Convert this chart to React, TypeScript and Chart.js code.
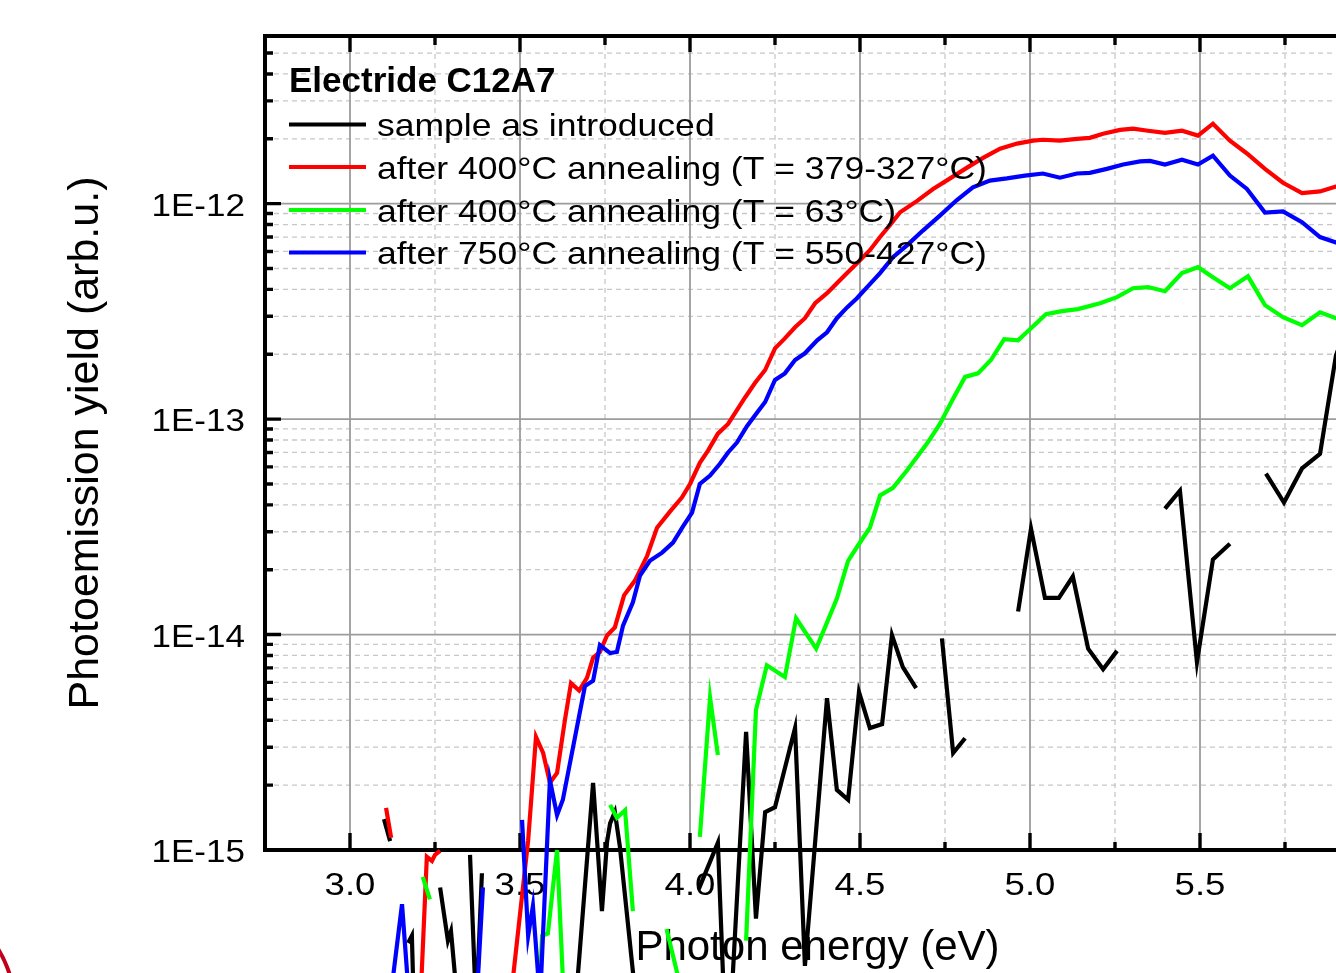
import React, { useEffect, useRef } from "react";
import { Chart, registerables } from "chart.js";

Chart.register(...registerables);

// ---------------- data (photon energy in eV, yield in arb.u.; null = gap) ----------------
const blackEnergy = [3.100, 3.118, 3.14, 3.171, 3.182, 3.188, 3.23, 3.265, 3.288, 3.297, 3.318, 3.33, 3.353, 3.371, 3.388, 3.5, 3.662, 3.715, 3.741, 3.756, 3.765, 3.779, 3.794, 3.844, 3.95, 4.026, 4.082, 4.109, 4.165, 4.194, 4.221, 4.250, 4.309, 4.338, 4.403, 4.432, 4.465, 4.497, 4.529, 4.565, 4.594, 4.626, 4.665, 4.70, 4.741, 4.774, 4.809, 4.9, 4.965, 5.003, 5.044, 5.085, 5.126, 5.171, 5.215, 5.256, 5.33, 5.397, 5.441, 5.491, 5.538, 5.588, 5.65, 5.694, 5.747, 5.800, 5.853, 5.900, 5.950];
const blackYield = [1.39e-15, 1.1e-15, null, 3.7e-16, 4.0e-16, 1.8e-16, null, 6.7e-16, 3.8e-16, 4.2e-16, 1.8e-16, null, 9.5e-16, 1.8e-16, 7.8e-16, null, 1.8e-16, 2.05e-15, 5.2e-16, 1.09e-15, 1.33e-15, 1.5e-15, 1.03e-15, 1.8e-16, null, 6.6e-16, 1.08e-15, 8.6e-17, 3.53e-15, 4.8e-16, 1.5e-15, 1.58e-15, 3.68e-15, 2.9e-16, 5.06e-15, 1.9e-15, 1.71e-15, 5.41e-15, 3.68e-15, 3.84e-15, 9.95e-15, 7.06e-15, 5.64e-15, null, 9.6e-15, 2.82e-15, 3.3e-15, null, 1.28e-14, 3.1e-14, 1.48e-14, 1.48e-14, 1.86e-14, 8.6e-15, 6.9e-15, 8.4e-15, null, 3.84e-14, 4.65e-14, 7.45e-15, 2.23e-14, 2.64e-14, null, 5.58e-14, 4.1e-14, 5.9e-14, 6.9e-14, 1.98e-13, 3.2e-13];

const redEnergy = [3.106, 3.121, 3.16, 3.206, 3.226, 3.241, 3.250, 3.265, 3.36, 3.459, 3.524, 3.547, 3.568, 3.588, 3.609, 3.632, 3.650, 3.674, 3.697, 3.715, 3.735, 3.756, 3.779, 3.806, 3.838, 3.874, 3.903, 3.941, 3.976, 4.000, 4.029, 4.053, 4.082, 4.112, 4.138, 4.162, 4.191, 4.221, 4.250, 4.279, 4.309, 4.338, 4.368, 4.403, 4.432, 4.462, 4.494, 4.529, 4.559, 4.588, 4.618, 4.668, 4.715, 4.765, 4.815, 4.862, 4.912, 4.962, 5.009, 5.038, 5.088, 5.138, 5.176, 5.215, 5.265, 5.303, 5.347, 5.397, 5.447, 5.494, 5.538, 5.588, 5.638, 5.691, 5.744, 5.800, 5.853, 5.900, 5.950];
const redYield = [1.57e-15, 1.14e-15, null, 1.8e-16, 9.3e-16, 8.9e-16, 9.5e-16, 9.9e-16, null, 1.3e-16, 1.11e-15, 3.35e-15, 2.82e-15, 2.05e-15, 2.28e-15, 4.0e-15, 5.95e-15, 5.5e-15, 6.3e-15, 7.8e-15, 8.3e-15, 9.9e-15, 1.08e-14, 1.52e-14, 1.78e-14, 2.32e-14, 3.13e-14, 3.72e-14, 4.32e-14, 5.0e-14, 6.27e-14, 7.14e-14, 8.56e-14, 9.5e-14, 1.10e-13, 1.26e-13, 1.47e-13, 1.69e-13, 2.13e-13, 2.37e-13, 2.67e-13, 2.94e-13, 3.45e-13, 3.84e-13, 4.27e-13, 4.76e-13, 5.35e-13, 6.08e-13, 7.0e-13, 7.95e-13, 9.12e-13, 1.03e-12, 1.17e-12, 1.31e-12, 1.47e-12, 1.63e-12, 1.80e-12, 1.90e-12, 1.96e-12, 1.98e-12, 1.96e-12, 2.0e-12, 2.02e-12, 2.11e-12, 2.2e-12, 2.23e-12, 2.18e-12, 2.13e-12, 2.18e-12, 2.07e-12, 2.35e-12, 1.96e-12, 1.71e-12, 1.45e-12, 1.25e-12, 1.12e-12, 1.14e-12, 1.2e-12, 1.25e-12];

const greenEnergy = [3.214, 3.235, 3.4, 3.556, 3.565, 3.582, 3.609, 3.629, 3.7, 3.765, 3.785, 3.809, 3.832, 3.88, 3.931, 3.982, 4.0, 4.029, 4.059, 4.082, 4.12, 4.165, 4.194, 4.226, 4.279, 4.312, 4.371, 4.397, 4.432, 4.465, 4.494, 4.529, 4.559, 4.597, 4.638, 4.697, 4.735, 4.771, 4.809, 4.847, 4.885, 4.924, 4.965, 5.003, 5.047, 5.094, 5.141, 5.206, 5.256, 5.303, 5.347, 5.397, 5.447, 5.494, 5.538, 5.588, 5.641, 5.691, 5.744, 5.800, 5.853, 5.900, 5.950];
const greenYield = [7.5e-16, 5.9e-16, null, 2.0e-16, 4.0e-16, 4.1e-16, 1.0e-15, 2.0e-16, null, 1.62e-15, 1.41e-15, 1.53e-15, 5.2e-16, null, 4.3e-16, 2.0e-16, null, 1.15e-15, 5.1e-15, 2.76e-15, null, 3.8e-16, 4.46e-15, 7.2e-15, 6.35e-15, 1.19e-14, 8.6e-15, 1.08e-14, 1.47e-14, 2.2e-14, 2.59e-14, 3.13e-14, 4.42e-14, 4.8e-14, 5.77e-14, 7.7e-14, 9.5e-14, 1.22e-13, 1.57e-13, 1.63e-13, 1.88e-13, 2.35e-13, 2.32e-13, 2.64e-13, 3.07e-13, 3.17e-13, 3.24e-13, 3.45e-13, 3.68e-13, 4.05e-13, 4.1e-13, 3.92e-13, 4.76e-13, 5.07e-13, 4.55e-13, 4.05e-13, 4.6e-13, 3.38e-13, 2.97e-13, 2.73e-13, 3.13e-13, 2.94e-13, 2.85e-13];

const blueEnergy = [3.118, 3.153, 3.174, 3.27, 3.371, 3.391, 3.45, 3.506, 3.524, 3.538, 3.559, 3.588, 3.609, 3.626, 3.691, 3.715, 3.735, 3.765, 3.785, 3.803, 3.832, 3.853, 3.882, 3.918, 3.950, 3.979, 4.006, 4.029, 4.059, 4.088, 4.112, 4.138, 4.168, 4.197, 4.221, 4.250, 4.279, 4.309, 4.338, 4.374, 4.403, 4.432, 4.462, 4.491, 4.521, 4.559, 4.597, 4.638, 4.685, 4.735, 4.785, 4.832, 4.882, 4.932, 4.985, 5.038, 5.088, 5.138, 5.176, 5.226, 5.274, 5.324, 5.353, 5.397, 5.447, 5.494, 5.538, 5.588, 5.638, 5.691, 5.744, 5.800, 5.853, 5.900, 5.950];
const blueYield = [2.0e-16, 5.6e-16, 2.0e-16, null, 1.8e-16, 6.7e-16, null, 1.38e-15, 4.0e-16, 5.5e-16, 2.0e-16, 2.11e-15, 1.45e-15, 1.71e-15, 5.77e-15, 6.1e-15, 8.94e-15, 8.2e-15, 8.3e-15, 1.10e-14, 1.41e-14, 1.88e-14, 2.2e-14, 2.4e-14, 2.67e-14, 3.17e-14, 3.68e-14, 5.0e-14, 5.47e-14, 6.2e-14, 7.0e-14, 7.78e-14, 9.3e-14, 1.07e-13, 1.2e-13, 1.52e-13, 1.63e-13, 1.88e-13, 2.02e-13, 2.32e-13, 2.53e-13, 2.94e-13, 3.3e-13, 3.64e-13, 4.1e-13, 4.76e-13, 5.64e-13, 6.4e-13, 7.5e-13, 8.8e-13, 1.04e-12, 1.19e-12, 1.28e-12, 1.31e-12, 1.35e-12, 1.38e-12, 1.32e-12, 1.38e-12, 1.39e-12, 1.45e-12, 1.52e-12, 1.57e-12, 1.58e-12, 1.52e-12, 1.6e-12, 1.52e-12, 1.67e-12, 1.35e-12, 1.17e-12, 9.1e-13, 9.2e-13, 8.2e-13, 7.0e-13, 6.6e-13, 6.3e-13];

const seriesNames = [
  "sample as introduced",
  "after 400°C annealing (T = 379-327°C)",
  "after 400°C annealing (T = 63°C)",
  "after 750°C annealing (T = 550-427°C)",
];
const seriesColors = ["#000000", "#ff0000", "#00ff00", "#0000ff"];
const legendTitle = "Electride C12A7";
const xTitle = "Photon energy (eV)";
const yTitle = "Photoemission yield (arb.u.)";

const xMin = 2.75;
const xMax = 6.0;
const yMin = 1e-15;
const yMax = 6e-12;
const xMajorValues = [3.0, 3.5, 4.0, 4.5, 5.0, 5.5, 6.0];
const xTickLabels = ["3.0", "3.5", "4.0", "4.5", "5.0", "5.5", "6.0"];
const xMinorValues = [3.25, 3.75, 4.25, 4.75, 5.25, 5.75];
const yTickValues = [1e-15, 1e-14, 1e-13, 1e-12];
const yTickLabels = ["1E-15", "1E-14", "1E-13", "1E-12"];
const yMinorMantissas = [2, 3, 4, 5, 6, 7, 8, 9];

const FONT_ARIAL = '"Liberation Sans", Arial, sans-serif';

function toPoints(xs: number[], ys: (number | null)[]) {
  return xs.map((x, i) => ({ x, y: ys[i] === undefined ? null : ys[i] }));
}

function yMinorValues(): number[] {
  const out: number[] = [];
  for (const d of yTickValues) {
    for (const m of yMinorMantissas) {
      const v = m * d;
      if (v > yMin && v < yMax * 0.999) out.push(v);
    }
  }
  return out;
}

// text drawn with a slight horizontal stretch, like the wide Arial of the original figure
function stretchedText(ctx: CanvasRenderingContext2D, text: string, x: number, y: number, sx: number, align: CanvasTextAlign) {
  ctx.save();
  ctx.translate(x, y);
  ctx.scale(sx, 1);
  ctx.textAlign = align;
  ctx.textBaseline = "alphabetic";
  ctx.fillText(text, 0, 0);
  ctx.restore();
}

const framePlugin = {
  id: "originFrame",
  beforeDatasetsDraw(chart: any) {
    const { ctx, chartArea: a } = chart;
    const xs = chart.scales.x;
    const ys = chart.scales.y;
    const yMinor = yMinorValues();
    ctx.save();

    // minor dashed grid
    ctx.lineWidth = 1.3;
    ctx.strokeStyle = "#c8c8c8";
    ctx.setLineDash([5, 4]);
    ctx.beginPath();
    for (const v of yMinor) {
      const p = ys.getPixelForValue(v);
      ctx.moveTo(a.left, p);
      ctx.lineTo(a.right, p);
    }
    for (const v of xMinorValues) {
      const p = xs.getPixelForValue(v);
      ctx.moveTo(p, a.top);
      ctx.lineTo(p, a.bottom);
    }
    ctx.stroke();

    // major solid grid
    ctx.setLineDash([]);
    ctx.strokeStyle = "#9c9c9c";
    ctx.lineWidth = 1.8;
    ctx.beginPath();
    for (const v of yTickValues) {
      if (v <= yMin) continue;
      const p = ys.getPixelForValue(v);
      ctx.moveTo(a.left, p);
      ctx.lineTo(a.right, p);
    }
    for (const v of xMajorValues) {
      const p = xs.getPixelForValue(v);
      ctx.moveTo(p, a.top);
      ctx.lineTo(p, a.bottom);
    }
    ctx.stroke();

    // inward tick marks
    ctx.strokeStyle = "#000";
    ctx.lineWidth = 3.4;
    ctx.beginPath();
    for (const v of yTickValues) {
      const p = ys.getPixelForValue(v);
      ctx.moveTo(a.left, p);
      ctx.lineTo(a.left + 16, p);
    }
    for (const v of yMinor) {
      const p = ys.getPixelForValue(v);
      ctx.moveTo(a.left, p);
      ctx.lineTo(a.left + 8, p);
    }
    for (const v of xMajorValues) {
      const p = xs.getPixelForValue(v);
      ctx.moveTo(p, a.bottom);
      ctx.lineTo(p, a.bottom - 17);
      ctx.moveTo(p, a.top);
      ctx.lineTo(p, a.top + 16);
    }
    for (const v of xMinorValues) {
      const p = xs.getPixelForValue(v);
      ctx.moveTo(p, a.bottom);
      ctx.lineTo(p, a.bottom - 8);
      ctx.moveTo(p, a.top);
      ctx.lineTo(p, a.top + 9);
    }
    ctx.stroke();

    // frame
    ctx.lineWidth = 4;
    ctx.beginPath();
    ctx.moveTo(a.left - 2, a.top);
    ctx.lineTo(a.right, a.top);
    ctx.moveTo(a.left, a.top);
    ctx.lineTo(a.left, a.bottom);
    ctx.moveTo(a.left - 2, a.bottom);
    ctx.lineTo(a.right, a.bottom);
    ctx.stroke();

    // tick labels (positions from the chart's scales)
    ctx.fillStyle = "#000";
    ctx.font = `31px ${FONT_ARIAL}`;
    yTickValues.forEach((v, i) => {
      const p = ys.getPixelForValue(v);
      stretchedText(ctx, yTickLabels[i], a.left - 20, p + 12, 1.13, "right");
    });
    xMajorValues.forEach((v, i) => {
      const p = xs.getPixelForValue(v);
      stretchedText(ctx, xTickLabels[i], p, a.bottom + 45, 1.18, "center");
    });

    // axis titles
    ctx.font = `42px ${FONT_ARIAL}`;
    ctx.textAlign = "center";
    ctx.textBaseline = "alphabetic";
    ctx.fillText(xTitle, (a.left + a.right) / 2, 960);
    ctx.translate(98, (a.top + a.bottom) / 2);
    ctx.rotate(-Math.PI / 2);
    ctx.font = `43px ${FONT_ARIAL}`;
    ctx.fillText(yTitle, 0, 0);
    ctx.restore();
  },
  afterDatasetsDraw(chart: any) {
    const { ctx } = chart;
    ctx.save();
    ctx.fillStyle = "#000";
    ctx.font = `bold 35px ${FONT_ARIAL}`;
    stretchedText(ctx, legendTitle, 289, 92, 1.0, "left");
    ctx.font = `32px ${FONT_ARIAL}`;
    const rowY = [124.5, 167, 210, 252.5];
    seriesNames.forEach((name, i) => {
      const y = rowY[i];
      ctx.strokeStyle = seriesColors[i];
      ctx.lineWidth = 4;
      ctx.beginPath();
      ctx.moveTo(289, y);
      ctx.lineTo(366, y);
      ctx.stroke();
      ctx.fillStyle = "#000";
      stretchedText(ctx, name, 377, y + 11.5, 1.11, "left");
    });
    ctx.restore();
  },
};

export default function App() {
  const canvasRef = useRef<HTMLCanvasElement | null>(null);

  useEffect(() => {
    const canvas = canvasRef.current;
    if (!canvas) return;
    const series = [
      { xs: blackEnergy, ys: blackYield, order: 3 },
      { xs: redEnergy, ys: redYield, order: 2 },
      { xs: greenEnergy, ys: greenYield, order: 1 },
      { xs: blueEnergy, ys: blueYield, order: 0 },
    ];
    const chart = new Chart(canvas, {
      type: "line",
      data: {
        datasets: series.map((s, i) => ({
          label: seriesNames[i],
          data: toPoints(s.xs, s.ys),
          borderColor: seriesColors[i],
          backgroundColor: seriesColors[i],
          borderWidth: 4.2,
          pointRadius: 0,
          pointHoverRadius: 0,
          tension: 0,
          spanGaps: false,
          clip: false as any,
          order: s.order,
          borderJoinStyle: "miter" as const,
        })),
      },
      options: {
        animation: false,
        responsive: false,
        maintainAspectRatio: false,
        events: [],
        layout: { padding: { top: 36, right: 30, left: 0, bottom: 0 } },
        plugins: {
          legend: { display: false },
          tooltip: { enabled: false },
          title: { display: false },
        },
        scales: {
          x: {
            type: "linear",
            min: xMin,
            max: xMax,
            grid: { display: false, drawTicks: false },
            border: { display: false },
            afterBuildTicks: (scale: any) => {
              scale.ticks = xMajorValues.map((v) => ({ value: v }));
            },
            afterFit: (scale: any) => {
              scale.height = 123;
            },
            ticks: { display: false, autoSkip: false },
          },
          y: {
            type: "logarithmic",
            min: yMin,
            max: yMax,
            grid: { display: false, drawTicks: false },
            border: { display: false },
            afterBuildTicks: (scale: any) => {
              scale.ticks = yTickValues.map((v) => ({ value: v }));
            },
            afterFit: (scale: any) => {
              scale.width = 265;
            },
            ticks: { display: false, autoSkip: false },
          },
        },
      },
      plugins: [framePlugin],
    });
    return () => chart.destroy();
  }, []);

  return (
    <div
      style={{
        position: "fixed",
        left: 0,
        top: 0,
        width: 1336,
        height: 973,
        overflow: "hidden",
        background: "#ffffff",
      }}
    >
      <div
        style={{
          position: "absolute",
          left: -217,
          top: 892,
          width: 234,
          height: 234,
          borderRadius: "50%",
          border: "4px solid #c0001a",
          boxSizing: "border-box",
        }}
      />
      <canvas
        ref={canvasRef}
        width={1400}
        height={973}
        style={{ position: "absolute", left: 0, top: 0, width: 1400, height: 973 }}
      />
    </div>
  );
}
